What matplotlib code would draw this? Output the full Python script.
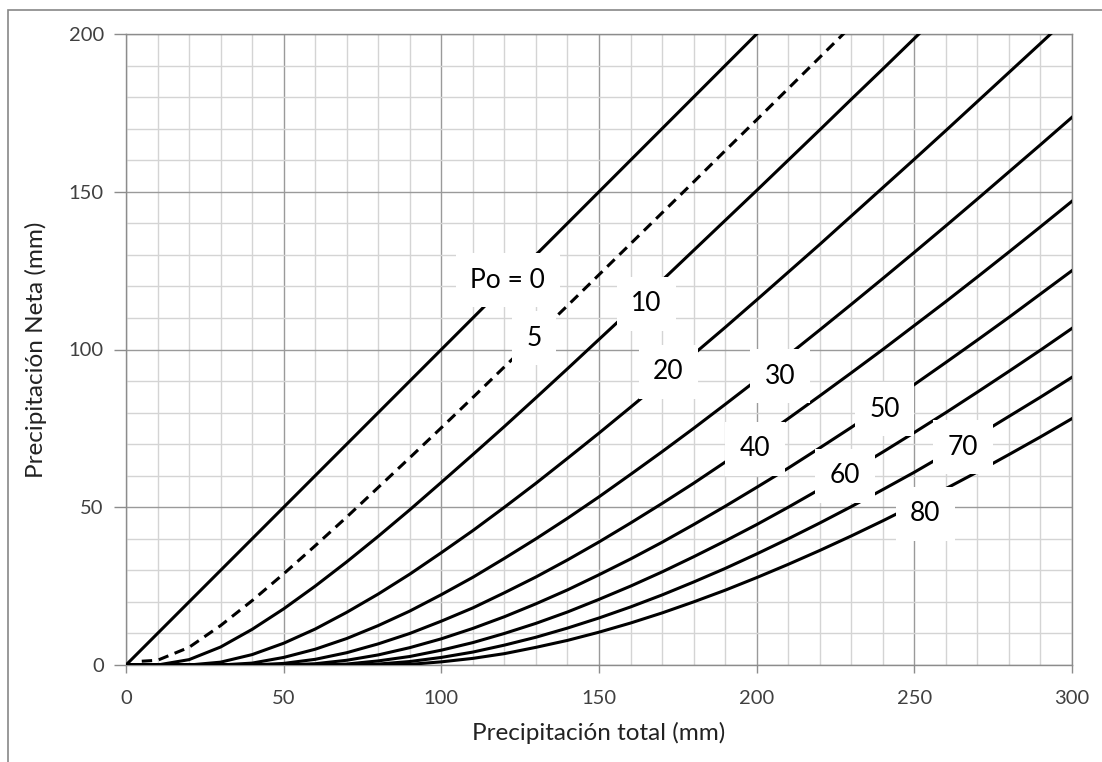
import numpy as np
import matplotlib
matplotlib.use("Agg")
import matplotlib.pyplot as plt
from matplotlib.patches import Rectangle

plt.rcParams['font.family'] = ['Lato', 'DejaVu Sans']

# precipitacion total (mm) at which the curves were read
p_total = [0, 10, 20, 30, 40, 50, 60, 70, 80, 90, 100, 110, 120, 130, 140, 150,
           160, 170, 180, 190, 200, 210, 220, 230, 240, 250, 260, 270, 280, 290, 300]

# Po = 0 is the straight 1:1 line
po0_x = [0, 200]
po0_y = [0, 200]

# Po = 5 (dashed)
po5_x = [5, 10, 20, 30, 40, 50, 60, 70, 80, 90, 100, 110, 120, 130, 140, 150,
         160, 170, 180, 190, 200, 210, 220, 230]
po5_y = [1.2, 1.5, 5.6, 12.5, 20.4, 28.9, 37.8, 46.9, 56.3, 65.7, 75.2, 84.8, 94.5,
         104.2, 113.9, 123.7, 133.5, 143.3, 153.1, 163.0, 172.8, 182.7, 192.6, 202.5]

# precipitacion neta (mm) for Po = 10 ... 80, read at p_total
po10 = [0, 0, 1.7, 5.7, 11.3, 17.8, 25.0, 32.7, 40.8, 49.2, 57.9, 66.7, 75.6, 84.7,
        93.9, 103.2, 112.5, 121.9, 131.4, 140.9, 150.4, 160.0, 169.6, 179.3, 188.9,
        198.6, 208.3]
po20 = [0, 0, 0, 0.9, 3.3, 6.9, 11.4, 16.7, 22.5, 28.8, 35.6, 42.6, 50.0, 57.6, 65.5,
        73.5, 81.7, 90.0, 98.5, 107.0, 115.7, 124.5, 133.3, 142.3, 151.3, 160.3, 169.4,
        178.6, 187.8, 197.0, 206.3]
po30 = [0, 0, 0, 0, 0.6, 2.4, 5.0, 8.4, 12.5, 17.1, 22.3, 27.8, 33.8, 40.0, 46.5, 53.3,
        60.4, 67.6, 75.0, 82.6, 90.3, 98.2, 106.2, 114.3, 122.5, 130.8, 139.2, 147.7,
        156.3, 164.9, 173.6]
po40 = [0, 0, 0, 0, 0, 0.5, 1.8, 3.9, 6.7, 10.0, 13.9, 18.1, 22.9, 27.9, 33.3, 39.0,
        45.0, 51.2, 57.6, 64.3, 71.1, 78.1, 85.3, 92.6, 100.0, 107.6, 115.2, 123.0,
        130.9, 138.9, 147.0]
po50 = [0, 0, 0, 0, 0, 0, 0.4, 1.5, 3.2, 5.5, 8.3, 11.6, 15.3, 19.4, 23.8, 28.6, 33.6,
        38.9, 44.5, 50.3, 56.3, 62.4, 68.8, 75.3, 82.0, 88.9, 95.9, 103.0, 110.2,
        117.6, 125.0]
po60 = [0, 0, 0, 0, 0, 0, 0, 0.3, 1.3, 2.7, 4.7, 7.1, 10.0, 13.2, 16.8, 20.8, 25.0,
        29.5, 34.3, 39.3, 44.5, 50.0, 55.7, 61.5, 67.5, 73.7, 80.0, 86.5, 93.1, 99.8,
        106.7]
po70 = [0, 0, 0, 0, 0, 0, 0, 0, 0.3, 1.1, 2.4, 4.1, 6.3, 8.8, 11.7, 14.9, 18.4, 22.2,
        26.3, 30.6, 35.2, 40.0, 45.0, 50.2, 55.6, 61.1, 66.9, 72.7, 78.8, 84.9, 91.2]
po80 = [0, 0, 0, 0, 0, 0, 0, 0, 0, 0.2, 1.0, 2.1, 3.6, 5.6, 7.8, 10.4, 13.3, 16.5,
        20.0, 23.7, 27.7, 31.9, 36.3, 40.9, 45.7, 50.7, 55.9, 61.2, 66.7, 72.3, 78.1]

# curve labels and where they sit
label_text = ['Po = 0', '5', '10', '20', '30', '40', '50', '60', '70', '80']
label_x = [121, 129.5, 165, 172, 207.5, 199.5, 240.5, 228, 265.5, 253.5]
label_y = [122, 103.5, 114.5, 93, 91.5, 68.5, 81, 60, 69, 48]

fig = plt.figure(figsize=(11.02, 7.62), dpi=100)
ax = fig.add_axes([126/1102, 97/762, 946/1102, 631/762])

# outer chart border (only left and top visible in the picture)
fig.patches.append(Rectangle((8/1102, -0.1), 1.2, 0.1 + 752/762, transform=fig.transFigure,
                             fill=False, edgecolor='#878787', linewidth=1.2, zorder=0))

lw = 2.2
ax.plot(po0_x, po0_y, color='black', lw=lw, zorder=3)
ax.plot(po5_x, po5_y, color='black', lw=lw, linestyle=(0, (3.4, 2.2)), zorder=3)
for vals in [po10, po20, po30, po40, po50, po60, po70, po80]:
    ax.plot(p_total[:len(vals)], vals, color='black', lw=lw, zorder=3,
            solid_joinstyle='round')

for t, x, y in zip(label_text, label_x, label_y):
    ax.text(x, y, t, fontsize=19, ha='center', va='center', color='black', zorder=5,
            bbox=dict(facecolor='white', edgecolor='none', boxstyle='square,pad=0.55'))

ax.set_xlim(0, 300)
ax.set_ylim(0, 200)
ax.set_xticks(np.arange(0, 301, 50))
ax.set_yticks(np.arange(0, 201, 50))
ax.set_xticks(np.arange(0, 301, 10), minor=True)
ax.set_yticks(np.arange(0, 201, 10), minor=True)
ax.grid(which='minor', color='#d4d4d4', lw=1.0, zorder=1)
ax.grid(which='major', color='#9a9a9a', lw=1.0, zorder=1)
ax.set_axisbelow(True)

ax.tick_params(axis='x', which='major', length=6, width=1, color='#8c8c8c', pad=12,
               labelsize=14.5, labelcolor='#404040')
ax.tick_params(axis='y', which='major', length=9, width=1, color='#8c8c8c', pad=7,
               labelsize=14.5, labelcolor='#404040')
ax.tick_params(which='minor', length=0)
for s in ax.spines.values():
    s.set_color('#8c8c8c')
    s.set_linewidth(1.0)

ax.set_xlabel('Precipitación total (mm)', fontsize=17.5, color='#222222')
ax.set_ylabel('Precipitación Neta (mm)', fontsize=17.5, color='#222222')
ax.xaxis.set_label_coords(0.5, -0.09)
ax.yaxis.set_label_coords(-0.083, 0.5)

fig.savefig('out.png', dpi=100)
